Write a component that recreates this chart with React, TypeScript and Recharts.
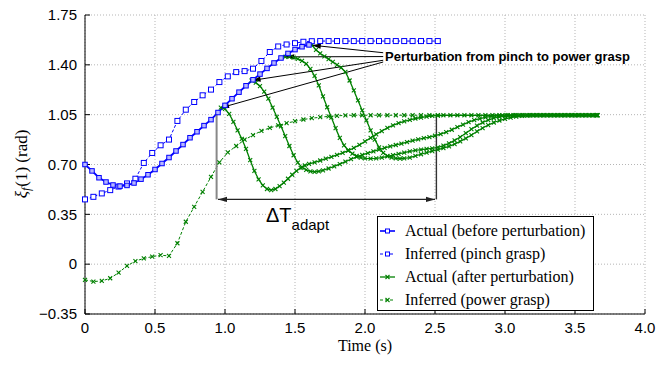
import {
  LineChart,
  Line,
  XAxis,
  YAxis,
  CartesianGrid,
  ReferenceLine,
  Legend,
} from "recharts";

type Pt = [number, number];

const xTicks = [0, 0.5, 1, 1.5, 2, 2.5, 3, 3.5, 4];
const yTicks = [-0.35, 0, 0.35, 0.7, 1.05, 1.4, 1.75];

const legendNames = [
  "Actual (before perturbation)",
  "Inferred (pinch grasp)",
  "Actual (after perturbation)",
  "Inferred (power grasp)",
];

// solid blue
const actualBefore: Pt[] = [
  [0, 0.7], [0.05, 0.655], [0.1, 0.607], [0.15, 0.577], [0.2, 0.556], [0.25, 0.548],
  [0.3, 0.553], [0.35, 0.57], [0.4, 0.597], [0.45, 0.628], [0.5, 0.665], [0.55, 0.707],
  [0.6, 0.749], [0.65, 0.795], [0.7, 0.84], [0.75, 0.888], [0.8, 0.93], [0.85, 0.973],
  [0.9, 1.015], [0.95, 1.065], [1.0, 1.115], [1.05, 1.162], [1.1, 1.208], [1.15, 1.253],
  [1.2, 1.295], [1.25, 1.335], [1.3, 1.375], [1.35, 1.413], [1.4, 1.448], [1.45, 1.48],
  [1.5, 1.507], [1.55, 1.527], [1.6, 1.54],
];

// dashed blue
const inferredPinch: Pt[] = [
  [0, 0.455], [0.06, 0.473], [0.12, 0.497], [0.18, 0.52], [0.24, 0.545], [0.3, 0.567],
  [0.36, 0.6], [0.42, 0.711], [0.48, 0.781], [0.54, 0.835], [0.6, 0.875], [0.66, 1.006],
  [0.72, 1.085], [0.78, 1.139], [0.84, 1.186], [0.9, 1.226], [0.96, 1.279], [1.02, 1.319],
  [1.08, 1.349], [1.14, 1.356], [1.2, 1.373], [1.26, 1.427], [1.32, 1.49], [1.38, 1.529],
  [1.44, 1.543], [1.5, 1.552], [1.56, 1.562], [1.62, 1.566], [1.68, 1.567], [1.74, 1.567],
  [1.8, 1.567], [1.86, 1.567], [1.92, 1.567], [1.98, 1.567], [2.04, 1.567], [2.1, 1.567],
  [2.16, 1.567], [2.22, 1.567], [2.28, 1.567], [2.34, 1.567], [2.4, 1.567], [2.46, 1.567],
  [2.52, 1.567],
];

// dashed green
const inferredPower: Pt[] = [
  [0, -0.11], [0.06, -0.122], [0.12, -0.118], [0.18, -0.099], [0.24, -0.06], [0.3, -0.012],
  [0.36, 0.022], [0.42, 0.04], [0.48, 0.053], [0.54, 0.063], [0.6, 0.058], [0.66, 0.147],
  [0.72, 0.298], [0.78, 0.403], [0.84, 0.508], [0.9, 0.613], [0.96, 0.715], [1.02, 0.785],
  [1.08, 0.83], [1.14, 0.874], [1.2, 0.906], [1.26, 0.936], [1.32, 0.957], [1.38, 0.975],
  [1.44, 0.99], [1.5, 1.004], [1.56, 1.016], [1.62, 1.025], [1.68, 1.032], [1.74, 1.038],
  [1.8, 1.042], [1.86, 1.045], [1.92, 1.046], [1.98, 1.046], [2.04, 1.046], [2.1, 1.046],
  [2.16, 1.046], [2.22, 1.046], [2.28, 1.046], [2.34, 1.046], [2.4, 1.046], [2.46, 1.046],
  [2.52, 1.046],
];

// solid green, one per perturbation instant
const afterA: Pt[] = [
  [0.97, 1.1], [1.0, 1.09], [1.03, 1.055], [1.06, 1.0], [1.09, 0.94], [1.12, 0.88],
  [1.15, 0.81], [1.18, 0.73], [1.21, 0.655], [1.24, 0.595], [1.27, 0.553], [1.3, 0.528],
  [1.33, 0.52], [1.36, 0.528], [1.39, 0.548], [1.42, 0.573], [1.45, 0.6], [1.48, 0.628],
  [1.51, 0.655], [1.54, 0.677], [1.57, 0.693], [1.6, 0.704], [1.64, 0.715], [1.68, 0.728],
  [1.72, 0.741], [1.76, 0.753], [1.8, 0.767], [1.84, 0.782], [1.88, 0.798], [1.92, 0.816],
  [1.96, 0.838], [2.0, 0.862], [2.04, 0.887], [2.08, 0.912], [2.12, 0.935], [2.16, 0.957],
  [2.2, 0.975], [2.24, 0.99], [2.28, 1.003], [2.32, 1.014], [2.36, 1.023], [2.4, 1.03],
  [2.44, 1.036], [2.48, 1.041], [2.52, 1.044], [2.56, 1.046], [2.61, 1.046], [2.66, 1.046],
  [2.71, 1.046], [2.76, 1.046], [2.81, 1.046], [2.86, 1.046], [2.91, 1.046], [2.96, 1.046],
  [3.01, 1.046], [3.06, 1.046], [3.11, 1.046], [3.16, 1.046], [3.21, 1.046], [3.26, 1.046],
  [3.31, 1.046], [3.36, 1.046], [3.41, 1.046], [3.46, 1.046], [3.51, 1.046], [3.56, 1.046],
  [3.61, 1.046], [3.66, 1.046],
];

const afterB: Pt[] = [
  [1.19, 1.29], [1.22, 1.275], [1.25, 1.25], [1.28, 1.212], [1.31, 1.162], [1.34, 1.1],
  [1.37, 1.035], [1.4, 0.968], [1.43, 0.9], [1.46, 0.83], [1.49, 0.765], [1.52, 0.713],
  [1.55, 0.68], [1.58, 0.662], [1.61, 0.651], [1.64, 0.648], [1.67, 0.651], [1.7, 0.659],
  [1.74, 0.672], [1.78, 0.687], [1.82, 0.703], [1.86, 0.72], [1.9, 0.737], [1.94, 0.753],
  [1.98, 0.767], [2.02, 0.78], [2.06, 0.792], [2.1, 0.804], [2.14, 0.816], [2.18, 0.827],
  [2.22, 0.837], [2.26, 0.847], [2.3, 0.857], [2.34, 0.867], [2.38, 0.876], [2.42, 0.885],
  [2.46, 0.893], [2.5, 0.902], [2.54, 0.914], [2.58, 0.928], [2.62, 0.944], [2.66, 0.962],
  [2.7, 0.98], [2.74, 0.997], [2.78, 1.011], [2.82, 1.022], [2.86, 1.031], [2.9, 1.038],
  [2.94, 1.043], [2.98, 1.045], [3.02, 1.046], [3.07, 1.046], [3.12, 1.046], [3.17, 1.046],
  [3.22, 1.046], [3.27, 1.046], [3.32, 1.046], [3.37, 1.046], [3.42, 1.046], [3.47, 1.046],
  [3.52, 1.046], [3.57, 1.046], [3.62, 1.046], [3.66, 1.046],
];

const afterC: Pt[] = [
  [1.43, 1.456], [1.46, 1.456], [1.49, 1.451], [1.52, 1.442], [1.55, 1.428], [1.58, 1.407],
  [1.61, 1.372], [1.64, 1.322], [1.67, 1.255], [1.7, 1.178], [1.73, 1.102], [1.76, 1.03],
  [1.79, 0.955], [1.82, 0.887], [1.85, 0.835], [1.88, 0.8], [1.91, 0.776], [1.94, 0.76],
  [1.97, 0.749], [2.0, 0.743], [2.04, 0.741], [2.08, 0.743], [2.12, 0.749], [2.16, 0.757],
  [2.2, 0.766], [2.24, 0.775], [2.28, 0.784], [2.32, 0.792], [2.36, 0.799], [2.4, 0.805],
  [2.44, 0.809], [2.48, 0.813], [2.52, 0.82], [2.56, 0.832], [2.6, 0.848], [2.64, 0.869],
  [2.68, 0.893], [2.72, 0.92], [2.76, 0.948], [2.8, 0.973], [2.84, 0.995], [2.88, 1.012],
  [2.92, 1.025], [2.96, 1.034], [3.0, 1.04], [3.04, 1.044], [3.08, 1.046], [3.13, 1.046],
  [3.18, 1.046], [3.23, 1.046], [3.28, 1.046], [3.33, 1.046], [3.38, 1.046], [3.43, 1.046],
  [3.48, 1.046], [3.53, 1.046], [3.58, 1.046], [3.63, 1.046], [3.66, 1.046],
];

const afterD: Pt[] = [
  [1.62, 1.538], [1.65, 1.505], [1.68, 1.48], [1.71, 1.46], [1.74, 1.44], [1.77, 1.42],
  [1.8, 1.4], [1.83, 1.38], [1.86, 1.35], [1.89, 1.29], [1.92, 1.22], [1.95, 1.15],
  [1.98, 1.08], [2.01, 1.01], [2.04, 0.94], [2.07, 0.875], [2.1, 0.82], [2.13, 0.782],
  [2.16, 0.76], [2.19, 0.748], [2.22, 0.743], [2.25, 0.742], [2.28, 0.743], [2.32, 0.749],
  [2.36, 0.76], [2.4, 0.772], [2.44, 0.783], [2.48, 0.794], [2.52, 0.804], [2.56, 0.815],
  [2.6, 0.828], [2.64, 0.843], [2.68, 0.862], [2.72, 0.883], [2.76, 0.907], [2.8, 0.932],
  [2.84, 0.956], [2.88, 0.977], [2.92, 0.995], [2.96, 1.009], [3.0, 1.02], [3.04, 1.029],
  [3.08, 1.036], [3.12, 1.041], [3.16, 1.044], [3.2, 1.046], [3.25, 1.046], [3.3, 1.046],
  [3.35, 1.046], [3.4, 1.046], [3.45, 1.046], [3.5, 1.046], [3.55, 1.046], [3.6, 1.046],
  [3.65, 1.046],
];

// annotation arrows: [from, to] in data units
const perturbArrows: [Pt, Pt][] = [
  [[2.13, 1.485], [1.62, 1.538]],
  [[2.13, 1.458], [1.43, 1.456]],
  [[2.13, 1.432], [1.19, 1.29]],
  [[2.13, 1.42], [0.965, 1.097]],
];
const adaptStart = 0.94;
const adaptEnd = 2.51;
const adaptLevel = 0.455;

const BLUE = "#0000ff";
const GREEN = "#008000";
const SANS = "'Liberation Sans', Arial, sans-serif";
const SERIF = "'Liberation Serif', 'Times New Roman', serif";

const rows = (pts: Pt[]) => pts.map(([t, v]) => ({ t, v }));

const headPts = (xa: number, ya: number, xb: number, yb: number) => {
  const a = Math.atan2(yb - ya, xb - xa);
  const len = 9;
  const half = 2.6;
  const bx = xb - len * Math.cos(a);
  const by = yb - len * Math.sin(a);
  const px = -Math.sin(a) * half;
  const py = Math.cos(a) * half;
  return `${xb},${yb} ${bx + px},${by + py} ${bx - px},${by - py}`;
};

const ArrowShape = (props: any) => {
  const { x1, y1, x2, y2, stroke, strokeWidth, both } = props;
  return (
    <g>
      <line x1={x1} y1={y1} x2={x2} y2={y2} stroke={stroke} strokeWidth={strokeWidth} />
      <polygon points={headPts(x1, y1, x2, y2)} fill={stroke} />
      {both && <polygon points={headPts(x2, y2, x1, y1)} fill={stroke} />}
    </g>
  );
};

const squareDot = (size: number, fill: string) => (p: any) => {
  if (p.cx == null || p.cy == null) return <g key={p.index} />;
  return (
    <rect
      key={p.index}
      x={p.cx - size / 2}
      y={p.cy - size / 2}
      width={size}
      height={size}
      fill={fill}
      stroke={BLUE}
      strokeWidth={1}
    />
  );
};

const crossDot = (p: any) => {
  if (p.cx == null || p.cy == null) return <g key={p.index} />;
  const r = 2;
  return (
    <path
      key={p.index}
      d={`M${p.cx - r},${p.cy - r}L${p.cx + r},${p.cy + r}M${p.cx - r},${p.cy + r}L${p.cx + r},${p.cy - r}`}
      stroke={GREEN}
      strokeWidth={1.1}
    />
  );
};

const LegendBox = () => {
  const styles = [
    { color: BLUE, dash: undefined, sq: true, w: 1.6 },
    { color: BLUE, dash: "3 2", sq: true, w: 1 },
    { color: GREEN, dash: undefined, sq: false, w: 1.3 },
    { color: GREEN, dash: "3 2", sq: false, w: 1 },
  ];
  return (
    <div
      style={{
        border: "1px solid #000",
        background: "#fff",
        width: 217,
        height: 95,
        boxSizing: "border-box",
        paddingTop: 2,
        fontFamily: SERIF,
        fontSize: 16,
        color: "#000",
      }}
    >
      {legendNames.map((name, i) => (
        <div key={name} style={{ display: "flex", alignItems: "center", height: 23 }}>
          <svg width={27} height={10} style={{ flex: "none" }}>
            <line x1={2} y1={5} x2={17} y2={5} stroke={styles[i].color} strokeWidth={styles[i].w} strokeDasharray={styles[i].dash} />
            {styles[i].sq ? (
              <rect x={7.5} y={3} width={4} height={4} fill="#fff" stroke={BLUE} strokeWidth={1} />
            ) : (
              <path d="M7.5,3L11.5,7M7.5,7L11.5,3" stroke={GREEN} strokeWidth={1.1} />
            )}
          </svg>
          <span style={{ whiteSpace: "nowrap", lineHeight: "23px" }}>{name}</span>
        </div>
      ))}
    </div>
  );
};

const fmtX = (v: number) => (v === 0 ? "0" : v.toFixed(1));
const fmtY = (v: number) =>
  v === 0 ? "0" : v < 0 ? "\u2212" + Math.abs(v).toFixed(2) : v.toFixed(2);

export default function App() {
  const greens = [afterA, afterB, afterC, afterD];
  return (
    <div style={{ width: 667, height: 365, background: "#fff", position: "relative" }}>
      <style>{"body{margin:0}"}</style>
      <LineChart width={667} height={365} margin={{ top: 15, right: 22, bottom: 21, left: 0 }}>
        <CartesianGrid stroke="#b5b5b5" strokeDasharray="1 2" />
        <XAxis
          dataKey="t"
          type="number"
          domain={[0, 4]}
          ticks={xTicks}
          interval={0}
          tickFormatter={fmtX}
          height={30}
          tickSize={-5}
          tickMargin={13}
          axisLine={{ stroke: "#000" }}
          tickLine={{ stroke: "#000" }}
          tick={{ fontSize: 15, fill: "#000", fontFamily: SANS }}
        />
        <YAxis
          type="number"
          domain={[-0.35, 1.75]}
          ticks={yTicks}
          interval={0}
          tickFormatter={fmtY}
          width={85}
          tickSize={-5}
          tickMargin={13}
          axisLine={{ stroke: "#000" }}
          tickLine={{ stroke: "#000" }}
          tick={{ fontSize: 15, fill: "#000", fontFamily: SANS }}
        />
        <Line
          data={rows(inferredPower)}
          dataKey="v"
          stroke={GREEN}
          strokeWidth={1}
          strokeDasharray="3 2"
          dot={crossDot}
          activeDot={false}
          isAnimationActive={false}
        />
        {greens.map((g, i) => (
          <Line
            key={i}
            data={rows(g)}
            dataKey="v"
            stroke={GREEN}
            strokeWidth={1.3}
            dot={crossDot}
            activeDot={false}
            isAnimationActive={false}
          />
        ))}
        <Line
          data={rows(inferredPinch)}
          dataKey="v"
          stroke={BLUE}
          strokeWidth={1}
          strokeDasharray="3 2"
          dot={squareDot(5, "#fff")}
          activeDot={false}
          isAnimationActive={false}
        />
        <Line
          data={rows(actualBefore)}
          dataKey="v"
          stroke={BLUE}
          strokeWidth={1.8}
          dot={squareDot(4.5, "#b8b8ff")}
          activeDot={false}
          isAnimationActive={false}
        />
        {perturbArrows.map(([from, to], i) => (
          <ReferenceLine
            key={"p" + i}
            segment={[{ x: from[0], y: from[1] }, { x: to[0], y: to[1] }]}
            stroke="#000"
            strokeWidth={1}
            shape={<ArrowShape />}
          />
        ))}
        <ReferenceLine
          segment={[{ x: adaptStart, y: adaptLevel }, { x: adaptStart, y: 1.052 }]}
          stroke="#888"
          strokeWidth={2}
        />
        <ReferenceLine
          segment={[{ x: adaptEnd, y: adaptLevel }, { x: adaptEnd, y: 1.035 }]}
          stroke="#333"
          strokeWidth={1.4}
        />
        <ReferenceLine
          segment={[{ x: adaptStart + 0.01, y: adaptLevel }, { x: adaptEnd - 0.01, y: adaptLevel }]}
          stroke="#222"
          strokeWidth={1.4}
          shape={<ArrowShape both />}
        />
        <Legend
          layout="horizontal"
          verticalAlign="middle"
          align="center"
          wrapperStyle={{ left: 377, top: 216, width: 217, height: 95 }}
          content={() => <LegendBox />}
        />
        <text x={385} y={61} fontFamily={SANS} fontWeight="bold" fontSize={13} fill="#000">
          Perturbation from pinch to power grasp
        </text>
        <text x={266} y={222} fontFamily={SANS} fontSize={20} fill="#000">
          ΔT
          <tspan fontSize={15} dy={8}>
            adapt
          </tspan>
        </text>
        <text x={365} y={351} textAnchor="middle" fontFamily={SERIF} fontSize={16} fill="#000">
          Time (s)
        </text>
        <text transform="translate(27,164) rotate(-90)" textAnchor="middle" fontFamily={SERIF} fontSize={17} fill="#000">
          <tspan fontStyle="italic">ξ</tspan>
          <tspan fontStyle="italic" fontSize={12} dy={3}>
            f
          </tspan>
          <tspan dy={-3} dx={1}>(1) (rad)</tspan>
        </text>
      </LineChart>
    </div>
  );
}
